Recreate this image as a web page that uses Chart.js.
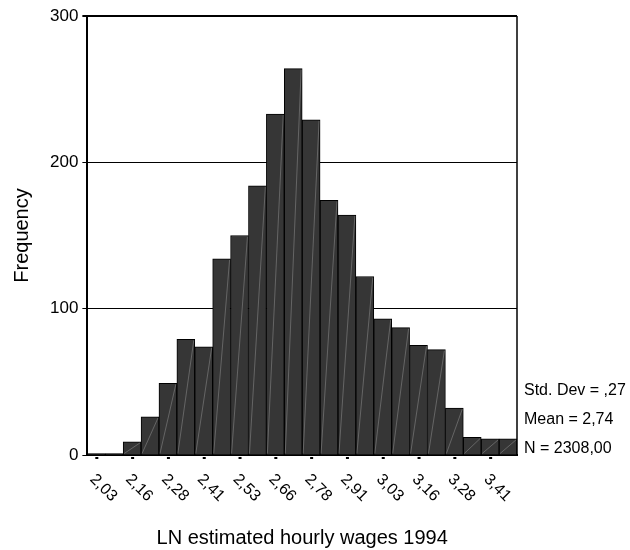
<!DOCTYPE html>
<html>
<head>
<meta charset="utf-8">
<script src="https://cdn.jsdelivr.net/npm/chart.js@4.4.1/dist/chart.umd.min.js"></script>
<style>
  html, body { margin: 0; padding: 0; background: #fff; }
  #wrap { width: 630px; height: 550px; }
</style>
</head>
<body>
<div id="wrap"><canvas id="chart"></canvas></div>
<script>
// Bin labels (only every second bin carries a tick label)
const binLabels = ['2,03', '', '2,16', '', '2,28', '', '2,41', '', '2,53', '', '2,66', '',
                   '2,78', '', '2,91', '', '3,03', '', '3,16', '', '3,28', '', '3,41', ''];
// Frequency in each bin
const frequencies = [1, 1, 9, 26, 49, 79, 74, 134, 150, 184, 233, 264,
                     229, 174, 164, 122, 93, 87, 75, 72, 32, 12, 11, 11];
const yTicks = [0, 100, 200, 300];
// Summary text on the right
const statLines = ['Std. Dev = ,27', 'Mean = 2,74', 'N = 2308,00'];

const FONT = 'Arial, "Liberation Sans", sans-serif';
Chart.defaults.font.family = FONT;
Chart.defaults.color = '#000';

// extra drawing: hatch line in each bar, rotated x labels, frame, stats
const histExtras = {
  id: 'histExtras',
  afterDatasetsDraw(chart) {
    const ctx = chart.ctx;
    const meta = chart.getDatasetMeta(0);
    ctx.save();
    ctx.strokeStyle = 'rgba(190,190,190,0.5)';
    ctx.lineWidth = 0.7;
    meta.data.forEach(bar => {
      const p = bar.getProps(['x', 'y', 'base', 'width'], true);
      if (p.base - p.y < 2) return;
      ctx.beginPath();
      ctx.moveTo(p.x - p.width / 2 + 1, p.base - 1);
      ctx.lineTo(p.x + p.width / 2 - 1, p.y + 1);
      ctx.stroke();
    });
    ctx.restore();
  },
  afterDraw(chart) {
    const ctx = chart.ctx;
    const area = chart.chartArea;
    const xScale = chart.scales.x;
    ctx.save();

    // right side of the frame
    ctx.strokeStyle = '#000';
    ctx.lineWidth = 1.5;
    ctx.beginPath();
    ctx.moveTo(area.right, area.top);
    ctx.lineTo(area.right, area.bottom);
    ctx.stroke();

    // x tick marks + labels turned 45 degrees clockwise
    ctx.fillStyle = '#000';
    ctx.font = '16px ' + FONT;
    ctx.textAlign = 'left';
    ctx.textBaseline = 'alphabetic';
    binLabels.forEach((lab, i) => {
      if (!lab) return;
      const px = xScale.getPixelForTick(i);
      ctx.fillRect(px - 1, area.bottom + 2, 3, 2);
      ctx.save();
      ctx.translate(px - 7, area.bottom + 25);
      ctx.rotate(Math.PI / 4);
      ctx.fillText(lab, 0, 0);
      ctx.restore();
    });

    // summary statistics
    statLines.forEach((txt, i) => {
      const fromBottom = statLines.length - 1 - i;
      ctx.fillText(txt, area.right + 7, area.bottom - 2 - fromBottom * 29);
    });
    ctx.restore();
  }
};

new Chart(document.getElementById('chart'), {
  type: 'bar',
  data: {
    labels: binLabels,
    datasets: [{
      data: frequencies,
      backgroundColor: '#363636',
      borderColor: '#000',
      borderWidth: 1,
      barPercentage: 1,
      categoryPercentage: 1
    }]
  },
  options: {
    responsive: true,
    maintainAspectRatio: false,
    animation: false,
    layout: { padding: { top: 16, right: 113, bottom: 0, left: 10 } },
    plugins: { legend: { display: false }, tooltip: { enabled: false } },
    scales: {
      x: {
        grid: { display: false },
        border: { color: '#000', width: 2 },
        ticks: { display: false },
        title: {
          display: true,
          text: 'LN estimated hourly wages 1994',
          font: { size: 20 },
          padding: { top: 63, bottom: 0 }
        }
      },
      y: {
        min: 0,
        max: 300,
        afterBuildTicks: axis => { axis.ticks = yTicks.map(v => ({ value: v })); },
        grid: {
          color: '#000',
          lineWidth: c => (c.tick && c.tick.value === 300 ? 2 : 1),
          tickLength: 5
        },
        border: { color: '#000', width: 2 },
        ticks: { font: { size: 17 }, padding: 4 },
        title: {
          display: true,
          text: 'Frequency',
          font: { size: 20 },
          padding: { top: 0, bottom: 12 }
        }
      }
    }
  },
  plugins: [histExtras]
});
</script>
</body>
</html>
